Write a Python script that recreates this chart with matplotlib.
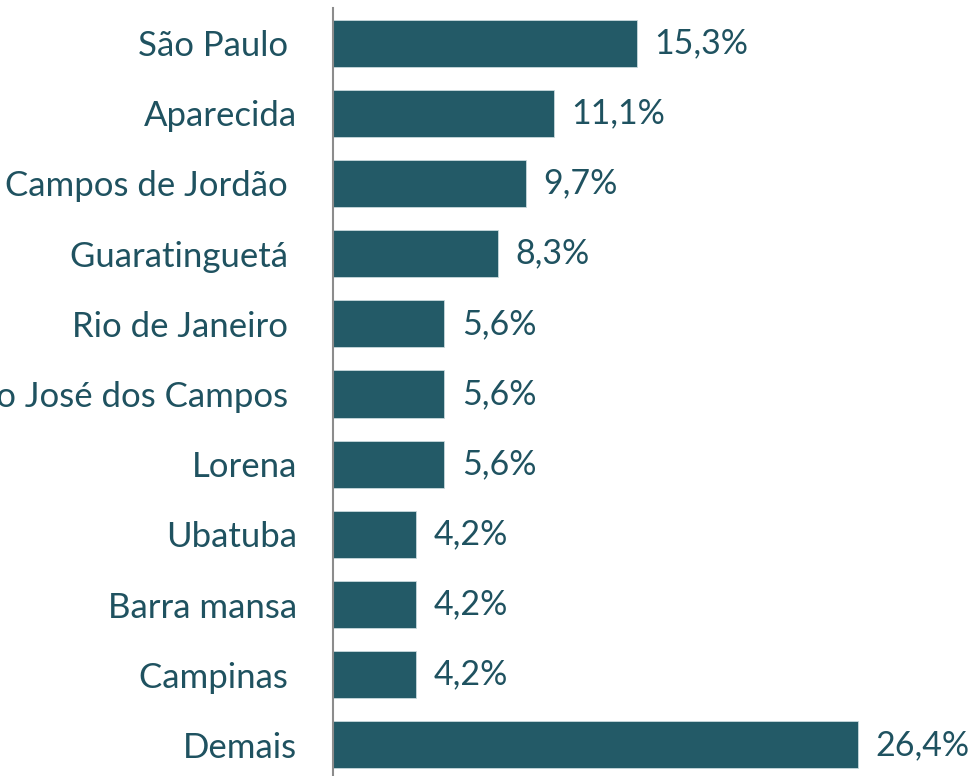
import matplotlib
matplotlib.use("Agg")
import matplotlib.pyplot as plt

# dados (%)
cidades = ["São Paulo ", "Aparecida", "Campos de Jordão ", "Guaratinguetá ",
           "Rio de Janeiro ", "São José dos Campos ", "Lorena", "Ubatuba",
           "Barra mansa", "Campinas ", "Demais"]
valores = [15.3, 11.1, 9.7, 8.3, 5.6, 5.6, 5.6, 4.2, 4.2, 4.2, 26.4]

cor_barra = "#235A67"
cor_texto = "#1F5260"

plt.rcParams['font.family'] = ['Lato', 'DejaVu Sans']

fig = plt.figure(figsize=(9.69, 7.76), dpi=100)
# eixo começa em x=333px e vai um pouco além da borda inferior
ax = fig.add_axes([333 / 969, -4 / 776, 636 / 969, 772 / 776])

pos = list(range(len(cidades)))
ax.barh(pos, valores, height=0.67, color=cor_barra, edgecolor="#C9D9DD", linewidth=0.6)

for y, v in zip(pos, valores):
    ax.annotate(f"{v:.1f}%".replace(".", ","), (v, y), xytext=(12.5, 0),
                textcoords="offset points", va="center", ha="left",
                fontsize=24.5, color=cor_texto)

ax.set_ylim(len(cidades) - 0.5, -0.5)
ax.set_xlim(0, 636 / 19.87)
ax.set_yticks(pos)
ax.set_yticklabels(cidades, fontsize=25, color=cor_texto)
ax.tick_params(axis="y", length=0, pad=26)
ax.set_xticks([])

for s in ["top", "right", "bottom"]:
    ax.spines[s].set_visible(False)
ax.spines["left"].set_color("#8C8C8C")
ax.spines["left"].set_linewidth(1.5)

fig.savefig("out.png", dpi=100)
